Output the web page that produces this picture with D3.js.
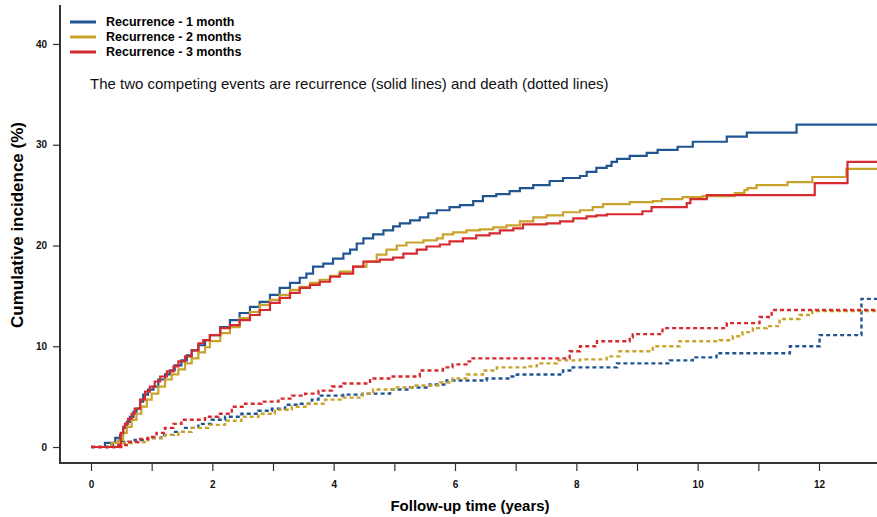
<!DOCTYPE html>
<html>
<head>
<meta charset="utf-8">
<script src="https://cdn.jsdelivr.net/npm/d3@7"></script>
<style>
  body { margin: 0; background: #fff; }
  svg { display: block; font-family: Arial, 'Liberation Sans', sans-serif; }
</style>
</head>
<body>
<div id="chart"></div>
<script>
// cumulative incidence (%) vs follow-up time (years), step curves
const rec1 = [[0,0],[0.23,0.4],[0.40,0.9],[0.48,1.2],[0.53,1.9],[0.59,2.5],[0.64,3.0],[0.70,3.5],[0.75,3.8],[0.81,4.5],[0.86,5.2],[0.94,5.7],[1.03,6.0],[1.11,6.7],[1.22,7.2],[1.30,7.6],[1.38,8.1],[1.49,8.6],[1.58,9.1],[1.66,9.6],[1.77,10.1],[1.88,10.6],[1.96,11.1],[2.13,11.9],[2.29,12.6],[2.45,13.3],[2.62,13.9],[2.78,14.4],[2.95,15.1],[3.11,15.8],[3.28,16.3],[3.44,16.8],[3.55,17.2],[3.66,17.9],[3.83,18.2],[3.99,18.7],[4.16,19.2],[4.27,19.6],[4.38,20.2],[4.49,20.7],[4.65,21.1],[4.82,21.5],[4.98,21.9],[5.09,22.2],[5.26,22.5],[5.42,22.8],[5.56,23.2],[5.70,23.5],[5.91,23.8],[6.08,24.0],[6.30,24.4],[6.46,24.9],[6.68,25.1],[6.90,25.4],[7.07,25.7],[7.29,26.0],[7.56,26.4],[7.78,26.7],[8.06,26.9],[8.17,27.3],[8.33,27.7],[8.50,27.9],[8.58,28.3],[8.67,28.6],[8.88,28.9],[9.16,29.2],[9.34,29.5],[9.67,29.8],[9.92,30.3],[10.48,30.8],[10.81,31.2],[11.63,32.0]];
const rec2 = [[0,0],[0.34,0.4],[0.45,0.7],[0.53,1.4],[0.59,2.0],[0.67,2.7],[0.75,3.3],[0.83,4.0],[0.92,4.7],[1.00,5.3],[1.11,6.0],[1.22,6.7],[1.33,7.2],[1.44,7.7],[1.55,8.3],[1.66,8.8],[1.77,9.4],[1.88,9.9],[1.96,10.5],[2.13,11.3],[2.29,11.9],[2.45,12.8],[2.62,13.4],[2.78,14.1],[2.95,14.6],[3.11,15.1],[3.28,15.6],[3.44,15.9],[3.61,16.3],[3.77,16.6],[3.94,17.0],[4.10,17.4],[4.32,17.9],[4.54,18.4],[4.71,19.1],[4.87,19.6],[5.04,20.0],[5.20,20.3],[5.48,20.5],[5.70,20.7],[5.80,21.1],[5.97,21.3],[6.19,21.5],[6.41,21.6],[6.63,21.8],[6.85,22.0],[7.07,22.4],[7.29,22.8],[7.51,23.0],[7.78,23.3],[8.06,23.5],[8.27,23.8],[8.44,24.1],[8.88,24.3],[9.26,24.4],[9.41,24.6],[9.75,24.8],[10.08,24.9],[10.61,25.2],[10.77,25.5],[10.82,25.7],[10.97,26.0],[11.48,26.3],[11.89,26.8],[12.45,27.6]];
const rec3 = [[0,0],[0.45,0.2],[0.49,1.4],[0.53,2.0],[0.56,2.3],[0.61,2.8],[0.67,3.3],[0.72,3.8],[0.81,4.7],[0.89,5.5],[0.97,6.0],[1.05,6.5],[1.14,7.0],[1.25,7.5],[1.36,8.0],[1.44,8.5],[1.55,9.0],[1.66,9.6],[1.77,10.3],[1.85,10.6],[1.96,11.1],[2.13,11.8],[2.29,12.1],[2.45,12.6],[2.62,13.1],[2.78,13.6],[2.95,14.3],[3.11,14.8],[3.28,15.3],[3.44,15.8],[3.61,16.1],[3.77,16.4],[3.94,16.9],[4.10,17.2],[4.32,17.9],[4.49,18.4],[4.76,18.6],[4.98,18.8],[5.15,19.2],[5.37,19.6],[5.53,19.9],[5.75,20.1],[5.91,20.4],[6.13,20.7],[6.35,21.0],[6.57,21.2],[6.74,21.5],[6.96,21.7],[7.12,22.1],[7.51,22.2],[7.73,22.4],[7.95,22.7],[8.17,22.9],[8.33,23.0],[8.50,23.1],[9.09,23.4],[9.24,23.8],[9.82,24.2],[9.88,24.6],[10.15,25.0],[11.93,26.2],[12.47,28.3]];
const death1 = [[0,0],[0.34,0.2],[0.50,0.5],[0.72,0.7],[0.94,0.9],[1.16,1.2],[1.36,1.5],[1.55,1.9],[1.77,2.3],[1.99,2.7],[2.21,3.0],[2.48,3.3],[2.76,3.6],[2.98,3.8],[3.20,4.2],[3.42,4.3],[3.64,4.7],[3.75,5.1],[4.16,5.2],[4.48,5.3],[4.93,5.7],[5.26,5.9],[5.58,6.2],[5.86,6.6],[6.52,6.8],[6.90,7.0],[7.02,7.2],[7.78,7.6],[7.94,7.9],[8.67,8.3],[9.54,8.6],[9.92,8.9],[10.31,9.3],[11.52,10.0],[12.01,11.1],[12.70,14.7]];
const death2 = [[0,0],[0.45,0.4],[0.67,0.5],[0.94,0.9],[1.22,1.2],[1.44,1.5],[1.66,1.9],[1.93,2.2],[2.21,2.6],[2.48,3.0],[2.76,3.3],[3.03,3.7],[3.31,4.0],[3.58,4.3],[3.86,4.7],[4.16,4.9],[4.48,5.3],[4.65,5.7],[5.04,5.9],[5.30,6.1],[5.75,6.4],[5.96,6.8],[6.19,7.2],[6.46,7.6],[6.69,7.9],[7.18,8.0],[7.35,8.3],[7.68,8.6],[8.06,8.7],[8.50,9.0],[8.71,9.5],[9.26,10.0],[9.70,10.5],[10.36,10.6],[10.58,11.0],[10.74,11.4],[10.91,11.8],[11.14,12.0],[11.35,12.7],[11.68,13.1],[11.89,13.5]];
const death3 = [[0,0],[0.50,0.2],[0.61,0.5],[0.78,0.8],[0.94,1.0],[1.08,1.4],[1.22,1.9],[1.36,2.3],[1.49,2.7],[1.88,3.0],[2.10,3.3],[2.32,4.0],[2.54,4.3],[2.81,4.5],[3.09,4.8],[3.31,5.1],[3.53,5.3],[3.75,5.6],[3.97,6.0],[4.16,6.3],[4.60,6.8],[4.95,7.0],[5.42,7.6],[5.80,7.9],[5.96,8.2],[6.19,8.5],[6.29,8.8],[7.89,9.5],[8.06,10.0],[8.34,10.5],[8.88,10.9],[8.93,11.2],[9.42,11.8],[10.48,12.3],[11.02,12.9],[11.22,13.6]];

const legendLabels = ['Recurrence - 1 month', 'Recurrence - 2 months', 'Recurrence - 3 months'];
const colors = ['#215592', '#c9a42c', '#d52b30'];
const xTicks = d3.range(0, 14);
const yTicks = [0, 10, 20, 30, 40];
const tMax = 13;

let w = 877;
let h = 517;

let xScale = d3.scaleLinear().domain([0, 12]).range([91, 819]);
let yScale = d3.scaleLinear().domain([0, 40]).range([447, 44]);

let svg = d3.select('#chart')
            .append('svg')
            .attr('width', w)
            .attr('height', h);

let axisX = 60;   // left axis line position
let axisY = 463;  // bottom axis line position

// y axis
let yAxis = d3.axisLeft(yScale).tickValues(yTicks).tickSize(7).tickPadding(6);
let gy = svg.append('g')
            .attr('transform', 'translate(' + axisX + ',0)')
            .call(yAxis);
gy.select('.domain').remove();
gy.selectAll('.tick line').attr('stroke', '#333').attr('stroke-width', 1.2);
gy.selectAll('.tick text').style('font-size', '10px').style('font-weight', 'bold').attr('fill', '#111');

// x axis, labels on even years only
let xAxis = d3.axisBottom(xScale).tickValues(xTicks).tickSize(8).tickPadding(10)
              .tickFormat((d) => d % 2 === 0 ? d : '');
let gx = svg.append('g')
            .attr('transform', 'translate(0,' + axisY + ')')
            .call(xAxis);
gx.select('.domain').remove();
gx.selectAll('.tick line').attr('stroke', '#333').attr('stroke-width', 1.2);
gx.selectAll('.tick text').style('font-size', '10px').style('font-weight', 'bold').attr('fill', '#111');

svg.append('line')
   .attr('x1', axisX).attr('x2', axisX)
   .attr('y1', 5).attr('y2', axisY + 1)
   .attr('stroke', '#333').attr('stroke-width', 2);
svg.append('line')
   .attr('x1', axisX - 1).attr('x2', w)
   .attr('y1', axisY).attr('y2', axisY)
   .attr('stroke', '#333').attr('stroke-width', 2);

// titles
svg.append('text')
   .attr('x', 470).attr('y', 511)
   .attr('text-anchor', 'middle')
   .style('font-size', '15px').style('font-weight', 'bold')
   .text('Follow-up time (years)');
svg.append('text')
   .attr('transform', 'translate(23,' + 225 + ') rotate(-90)')
   .attr('text-anchor', 'middle')
   .style('font-size', '17px').style('font-weight', 'bold')
   .text('Cumulative incidence (%)');

// curves
let line = d3.line()
             .x((d) => xScale(d[0]))
             .y((d) => yScale(d[1]))
             .curve(d3.curveStepAfter);

const extend = (s) => s.concat([[tMax, s[s.length - 1][1]]]);

let deaths = [death1, death2, death3];
let recs = [rec1, rec2, rec3];

svg.selectAll('path.death')
   .data(deaths)
   .enter()
   .append('path')
   .attr('class', 'death')
   .attr('d', (d) => line(extend(d)))
   .attr('fill', 'none')
   .attr('stroke', (d, i) => colors[i])
   .attr('stroke-width', 2.4)
   .attr('stroke-dasharray', '4,3');

svg.selectAll('path.rec')
   .data(recs)
   .enter()
   .append('path')
   .attr('class', 'rec')
   .attr('d', (d) => line(extend(d)))
   .attr('fill', 'none')
   .attr('stroke', (d, i) => colors[i])
   .attr('stroke-width', 2.2);

// legend
let legend = svg.append('g');
legend.selectAll('line')
      .data(legendLabels)
      .enter()
      .append('line')
      .attr('x1', 70).attr('x2', 96)
      .attr('y1', (d, i) => 22 + i * 15)
      .attr('y2', (d, i) => 22 + i * 15)
      .attr('stroke', (d, i) => colors[i])
      .attr('stroke-width', 3);
legend.selectAll('text')
      .data(legendLabels)
      .enter()
      .append('text')
      .attr('x', 106)
      .attr('y', (d, i) => 22 + i * 15)
      .attr('dy', '0.35em')
      .style('font-size', '12.5px').style('font-weight', 'bold')
      .text((d) => d);

svg.append('text')
   .attr('x', 90).attr('y', 84)
   .attr('dy', '0.35em')
   .style('font-size', '15px')
   .attr('fill', '#111')
   .text('The two competing events are recurrence (solid lines) and death (dotted lines)');
</script>
</body>
</html>
